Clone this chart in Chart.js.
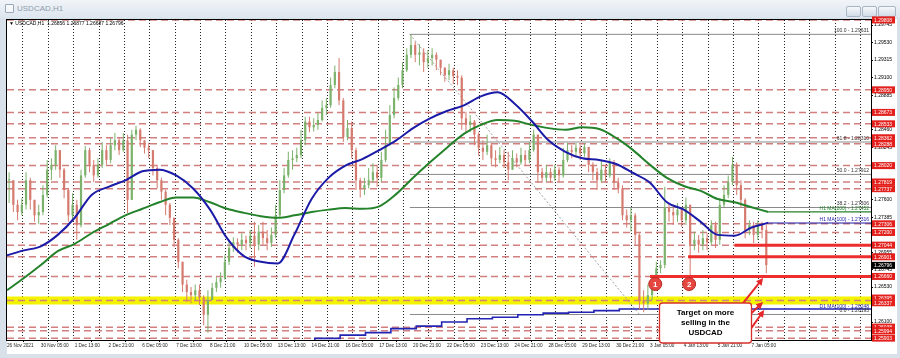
<!DOCTYPE html>
<html>
<head>
<meta charset="utf-8">
<script src="https://cdn.jsdelivr.net/npm/chart.js"></script>
<style>
  html, body { margin: 0; padding: 0; }
  body { width: 900px; height: 358px; background: #d8e0ea; position: relative; overflow: hidden; font-family: "Liberation Sans", Arial, sans-serif; }
  #titlebar { position: absolute; left: 0; top: 0; width: 900px; height: 18px; background: linear-gradient(#f1f4f8, #dde5ee); }
  #icon { position: absolute; left: 5px; top: 4px; width: 7px; height: 7px; border: 1px solid #9aa8b8; border-radius: 1px; background: #f6f8fb; }
  #title { position: absolute; left: 17px; top: 4px; font-size: 8px; color: #8e9cad; }
  .btn { position: absolute; top: 6px; height: 9px; border: 1px solid #a9b6c4; border-radius: 2px; background: linear-gradient(#f6f8fb, #d3dce6); }
  canvas { position: absolute; left: 0; top: 0; }
</style>
</head>
<body>
<div id="titlebar"><div id="icon"></div><div id="title">USDCAD,H1</div></div>
<div class="btn" style="left:846px;width:13px"></div>
<div class="btn" style="left:862px;width:13px"></div>
<div class="btn" style="left:878px;width:16px"></div>
<canvas id="chart" width="900" height="358"></canvas>
<script>
// time axis: one label every 32 hourly bars
const timeLabels = ['26 Nov 2021', '30 Nov 05:00', '1 Dec 13:00', '2 Dec 21:00', '6 Dec 05:00', '7 Dec 13:00',
    '8 Dec 21:00', '10 Dec 05:00', '13 Dec 13:00', '14 Dec 21:00', '16 Dec 05:00', '17 Dec 13:00',
    '20 Dec 21:00', '22 Dec 05:00', '23 Dec 13:00', '24 Dec 21:00', '28 Dec 05:00', '29 Dec 13:00',
    '30 Dec 21:00', '3 Jan 05:00', '4 Jan 13:00', '5 Jan 21:00', '7 Jan 05:00'];
const labelEvery = 32;
const xMax = 817;

const priceTicks = [1.29745, 1.29530, 1.29315, 1.29100, 1.28885, 1.28670, 1.28460, 1.28245, 1.28030,
    1.27815, 1.27600, 1.27385, 1.27170, 1.26955, 1.26745, 1.26530, 1.26315, 1.26100];
const yMin = 1.25880, yMax = 1.29807;

// 4-hour candles (open = previous close)
const candleBars = 4;
const closes = [
    1.2784, 1.2754, 1.2745, 1.2754, 1.2784, 1.2760, 1.2741, 1.2745, 1.2766, 1.2797,
    1.2803, 1.2821, 1.2797, 1.2772, 1.2741, 1.2754, 1.2729, 1.2790, 1.2821, 1.2803,
    1.2790, 1.2803, 1.2821, 1.2809, 1.2827, 1.2833, 1.2821, 1.2833, 1.2760, 1.2840,
    1.2846, 1.2833, 1.2824, 1.2821, 1.2799, 1.2784, 1.2770, 1.2754, 1.2738, 1.2711,
    1.2684, 1.2656, 1.2647, 1.2643, 1.2649, 1.2640, 1.2619, 1.2637, 1.2652, 1.2659,
    1.2664, 1.2684, 1.2701, 1.2708, 1.2705, 1.2711, 1.2707, 1.2716, 1.2705, 1.2721,
    1.2713, 1.2707, 1.2717, 1.2741, 1.2772, 1.2790, 1.2809, 1.2811, 1.2815, 1.2833,
    1.2856, 1.2849, 1.2852, 1.2858, 1.2873, 1.2876, 1.2901, 1.2917, 1.2882, 1.2837,
    1.2848, 1.2821, 1.2784, 1.2774, 1.2778, 1.2784, 1.2794, 1.2787, 1.2809, 1.2827,
    1.2864, 1.2885, 1.2901, 1.2919, 1.2938, 1.2950, 1.2938, 1.2941, 1.2929, 1.2934,
    1.2938, 1.2932, 1.2922, 1.2913, 1.2919, 1.2912, 1.2910, 1.2860, 1.2852, 1.2856,
    1.2840, 1.2824, 1.2819, 1.2827, 1.2811, 1.2809, 1.2815, 1.2806, 1.2797, 1.2811,
    1.2806, 1.2815, 1.2809, 1.2821, 1.2840, 1.2794, 1.2787, 1.2794, 1.2787, 1.2797,
    1.2790, 1.2809, 1.2821, 1.2819, 1.2824, 1.2817, 1.2825, 1.2803, 1.2794, 1.2784,
    1.2797, 1.2790, 1.2806, 1.2781, 1.2774, 1.2741, 1.2735, 1.2741, 1.2717, 1.2637,
    1.2633, 1.2643, 1.2658, 1.2676, 1.2680, 1.2751, 1.2745, 1.2741, 1.2748, 1.2735,
    1.2754, 1.2705, 1.2711, 1.2705, 1.2713, 1.2708, 1.2729, 1.2711, 1.2754, 1.2766,
    1.2782, 1.2803, 1.2778, 1.2760, 1.2723, 1.2729, 1.2717, 1.2729, 1.2723, 1.2680];
const highs = [
    1.2794, 1.2766, 1.2760, 1.2762, 1.2794, 1.2787, 1.2760, 1.2754, 1.2778, 1.2809,
    1.2811, 1.2827, 1.2821, 1.2799, 1.2774, 1.2768, 1.2760, 1.2797, 1.2826, 1.2824,
    1.2809, 1.2811, 1.2831, 1.2827, 1.2836, 1.2842, 1.2836, 1.2842, 1.2840, 1.2846,
    1.2851, 1.2848, 1.2833, 1.2830, 1.2821, 1.2803, 1.2787, 1.2772, 1.2756, 1.2738,
    1.2713, 1.2684, 1.2662, 1.2653, 1.2656, 1.2656, 1.2643, 1.2649, 1.2658, 1.2665,
    1.2671, 1.2692, 1.2711, 1.2714, 1.2713, 1.2719, 1.2716, 1.2723, 1.2733, 1.2729,
    1.2733, 1.2723, 1.2726, 1.2754, 1.2784, 1.2799, 1.2819, 1.2821, 1.2824, 1.2846,
    1.2862, 1.2862, 1.2860, 1.2867, 1.2882, 1.2885, 1.2910, 1.2925, 1.2934, 1.2885,
    1.2858, 1.2856, 1.2824, 1.2787, 1.2787, 1.2799, 1.2805, 1.2803, 1.2819, 1.2846,
    1.2876, 1.2898, 1.2910, 1.2929, 1.2946, 1.2963, 1.2954, 1.2951, 1.2946, 1.2944,
    1.2946, 1.2941, 1.2932, 1.2923, 1.2927, 1.2922, 1.2919, 1.2913, 1.2868, 1.2864,
    1.2858, 1.2843, 1.2833, 1.2840, 1.2830, 1.2821, 1.2825, 1.2821, 1.2819, 1.2821,
    1.2817, 1.2824, 1.2821, 1.2831, 1.2846, 1.2840, 1.2799, 1.2803, 1.2799, 1.2803,
    1.2800, 1.2824, 1.2830, 1.2827, 1.2830, 1.2827, 1.2830, 1.2824, 1.2806, 1.2799,
    1.2809, 1.2803, 1.2811, 1.2809, 1.2787, 1.2778, 1.2748, 1.2750, 1.2744, 1.2719,
    1.2649, 1.2656, 1.2668, 1.2684, 1.2686, 1.2776, 1.2756, 1.2754, 1.2756, 1.2751,
    1.2763, 1.2754, 1.2721, 1.2717, 1.2723, 1.2719, 1.2735, 1.2733, 1.2762, 1.2778,
    1.2790, 1.2813, 1.2806, 1.2784, 1.2762, 1.2735, 1.2733, 1.2735, 1.2733, 1.2729];
const lows = [
    1.2756, 1.2745, 1.2735, 1.2741, 1.2748, 1.2748, 1.2733, 1.2730, 1.2741, 1.2763,
    1.2784, 1.2797, 1.2787, 1.2762, 1.2733, 1.2733, 1.2711, 1.2726, 1.2787, 1.2794,
    1.2782, 1.2787, 1.2799, 1.2803, 1.2805, 1.2821, 1.2815, 1.2819, 1.2744, 1.2760,
    1.2833, 1.2825, 1.2817, 1.2811, 1.2790, 1.2774, 1.2760, 1.2741, 1.2729, 1.2702,
    1.2676, 1.2647, 1.2635, 1.2633, 1.2637, 1.2631, 1.2606, 1.2597, 1.2637, 1.2647,
    1.2652, 1.2662, 1.2680, 1.2696, 1.2695, 1.2698, 1.2698, 1.2701, 1.2678, 1.2698,
    1.2705, 1.2698, 1.2702, 1.2713, 1.2738, 1.2768, 1.2787, 1.2797, 1.2806, 1.2811,
    1.2827, 1.2843, 1.2844, 1.2846, 1.2856, 1.2864, 1.2873, 1.2897, 1.2876, 1.2831,
    1.2833, 1.2811, 1.2772, 1.2763, 1.2766, 1.2774, 1.2781, 1.2776, 1.2782, 1.2806,
    1.2833, 1.2860, 1.2882, 1.2897, 1.2917, 1.2934, 1.2929, 1.2925, 1.2917, 1.2922,
    1.2925, 1.2919, 1.2913, 1.2905, 1.2907, 1.2902, 1.2901, 1.2846, 1.2842, 1.2843,
    1.2827, 1.2814, 1.2809, 1.2815, 1.2803, 1.2800, 1.2805, 1.2799, 1.2784, 1.2799,
    1.2800, 1.2803, 1.2802, 1.2805, 1.2819, 1.2781, 1.2781, 1.2782, 1.2781, 1.2783,
    1.2782, 1.2787, 1.2806, 1.2811, 1.2814, 1.2809, 1.2813, 1.2794, 1.2784, 1.2772,
    1.2781, 1.2782, 1.2787, 1.2772, 1.2768, 1.2735, 1.2726, 1.2721, 1.2705, 1.2625,
    1.2622, 1.2625, 1.2637, 1.2656, 1.2670, 1.2676, 1.2733, 1.2729, 1.2733, 1.2727,
    1.2729, 1.2665, 1.2698, 1.2695, 1.2698, 1.2698, 1.2705, 1.2701, 1.2705, 1.2751,
    1.2762, 1.2778, 1.2766, 1.2750, 1.2713, 1.2717, 1.2707, 1.2711, 1.2713, 1.2670];

// H1 moving averages, one value every 16 bars
const maStep = 16;
const ma100 = [1.2692, 1.2698, 1.2703, 1.2717, 1.2738, 1.2766, 1.2776, 1.2784, 1.2795, 1.2797,
    1.2790, 1.2774, 1.2748, 1.2713, 1.2691, 1.2684, 1.2682, 1.2718, 1.2761, 1.2787,
    1.2802, 1.2810, 1.2821, 1.2833, 1.2848, 1.2860, 1.2869, 1.2876, 1.2887, 1.2892,
    1.2878, 1.2857, 1.2833, 1.2819, 1.2811, 1.2809, 1.2804, 1.2793, 1.2781, 1.2757,
    1.2748, 1.2733, 1.2717, 1.2716, 1.2726, 1.2732];
const ma200 = [1.2649, 1.2664, 1.2680, 1.2697, 1.2706, 1.2719, 1.2730, 1.2741, 1.2749, 1.2757,
    1.2763, 1.2763, 1.2757, 1.2749, 1.2744, 1.2740, 1.2738, 1.2741, 1.2745, 1.2748,
    1.2750, 1.2749, 1.2752, 1.2767, 1.2787, 1.2806, 1.2824, 1.2841, 1.2852, 1.2858,
    1.2857, 1.2852, 1.2848, 1.2846, 1.2849, 1.2847, 1.2836, 1.2821, 1.2803, 1.2787,
    1.2777, 1.2771, 1.2761, 1.2757, 1.2751, 1.2745];
const ma100Now = 1.27316, ma200Now = 1.27452;

// daily 100 MA, steps at each day start
const d1Bars = [291, 315, 339, 363, 387, 411, 435, 459, 483, 507, 531, 555, 579, 603, 817];
const d1Ma = [1.2587, 1.2590, 1.2594, 1.2597, 1.2602, 1.2605, 1.2610, 1.2614, 1.2616, 1.2619,
    1.2621, 1.2622, 1.2624, 1.2626, 1.2626];
const d1Now = 1.26248;

// horizontal levels (red dashed) and the yellow target zone
const levels = [1.29808, 1.28950, 1.28673, 1.28533, 1.28362, 1.28288, 1.28020, 1.27819, 1.27737,
    1.27306, 1.27200, 1.27044, 1.26901, 1.26660, 1.26038, 1.25994, 1.25903];
const bandLevels = [1.26395, 1.26337];
const bandMid = 1.26366;
const supportLines = [1.27044, 1.26901, 1.26660];
const supportFrom = [688, 644, 608];

// fibonacci retracement of the 20 Dec high to 30 Dec low
const fibLevels = [100.0, 61.8, 50.0, 38.2, 0.0];
const fibPrices = [1.29631, 1.28310, 1.27912, 1.27506, 1.26193];
const fibFrom = 381, fibLowBar = 598;

const lastPrice = 1.26796;
const header = '\u25BC USDCAD,H1  1.26856 1.26877 1.26687 1.26796';

const markers = [{ text: '1', bar: 613, price: 1.26567 }, { text: '2', bar: 645, price: 1.26567 }];
const callout = { from: 617, to: 704, top: 1.26334, bottom: 1.25843, lines: ['Target on more', 'selling in the', 'USDCAD'] };
const arrows = [
    { from: [696, 1.26334], to: [715, 1.26641] },
    { from: [704, 1.26212], to: [715, 1.26347] },
    { from: [704, 1.26028], to: [716, 1.26248] }
];

const FONT = '"Liberation Sans", Arial, sans-serif';
const bull = '#7bb26c', bear = '#d57a6e';

const opens = closes.map((c, i) => i === 0 ? c : closes[i - 1]);
const candleX = closes.map((c, i) => i * candleBars + candleBars / 2);
const candleColors = closes.map((c, i) => c >= opens[i] ? bull : bear);

function hline(p, from, to, color, width, extra) {
    return Object.assign({
        type: 'line', data: [{ x: from, y: p }, { x: to, y: p }],
        borderColor: color, borderWidth: width, pointRadius: 0, fill: false
    }, extra || {});
}

const datasets = [];

// candles
datasets.push({
    type: 'bar', label: 'bodies', order: 5,
    data: candleX.map((x, i) => ({ x: x, y: [opens[i], closes[i]] })),
    backgroundColor: candleColors, grouped: false, categoryPercentage: 1, barPercentage: 0.6,
    maxBarThickness: 2.2, minBarLength: 1, borderWidth: 0
});
datasets.push({
    type: 'bar', label: 'wicks', order: 6,
    data: candleX.map((x, i) => ({
        x: x,
        y: [Math.min(lows[i], opens[i], closes[i]), Math.max(highs[i], opens[i], closes[i])]
    })),
    backgroundColor: candleColors, grouped: false, categoryPercentage: 1, barPercentage: 0.3,
    maxBarThickness: 1, borderWidth: 0
});

// moving averages
datasets.push({
    type: 'line', label: 'H1 MA(100)', order: 4,
    data: ma100.map((v, i) => ({ x: i * maStep, y: v })),
    borderColor: '#1b1ba8', borderWidth: 2, pointRadius: 0, cubicInterpolationMode: 'monotone'
});
datasets.push({
    type: 'line', label: 'H1 MA(200)', order: 4,
    data: ma200.map((v, i) => ({ x: i * maStep, y: v })),
    borderColor: '#23822a', borderWidth: 2, pointRadius: 0, cubicInterpolationMode: 'monotone'
});
datasets.push(hline(ma100Now, (ma100.length - 1) * maStep, xMax, '#1b1ba8', 1.2, { order: 4 }));
datasets.push(hline(ma200Now, (ma200.length - 1) * maStep, xMax, '#23822a', 1.2, { order: 4 }));
datasets.push({
    type: 'line', label: 'D1 MA(100)', order: 7, stepped: 'after',
    data: d1Bars.map((b, i) => ({ x: b, y: d1Ma[i] })),
    borderColor: '#2323b4', borderWidth: 1.6, pointRadius: 0
});

// levels
levels.forEach(p => datasets.push(hline(p, 0, xMax, '#d27f7f', 1.5, { borderDash: [7, 4], order: 9 })));
datasets.push(hline(bandMid, 0, xMax, '#f3f300', 8, { order: 10 }));
datasets.push(hline(bandMid, 0, xMax, '#d27f7f', 1.5, { borderDash: [7, 4], order: 8 }));
supportLines.forEach((p, i) => datasets.push(hline(p, supportFrom[i], xMax, '#ee2d2d', 3, { order: 3 })));

// fibonacci
fibPrices.forEach(p => datasets.push(hline(p, fibFrom, xMax, '#8a8a8a', 1, { order: 8 })));
datasets.push({
    type: 'line', order: 8,
    data: [{ x: fibFrom, y: fibPrices[0] }, { x: fibLowBar, y: fibPrices[fibPrices.length - 1] }],
    borderColor: '#a0a0a0', borderWidth: 1, borderDash: [2, 2], pointRadius: 0
});

function drawArrow(ctx, x0, y0, x1, y1) {
    const a = Math.atan2(y1 - y0, x1 - x0);
    ctx.beginPath();
    ctx.moveTo(x0, y0);
    ctx.lineTo(x1 - 4 * Math.cos(a), y1 - 4 * Math.sin(a));
    ctx.stroke();
    ctx.beginPath();
    ctx.moveTo(x1, y1);
    ctx.lineTo(x1 - 7 * Math.cos(a) + 3.5 * Math.sin(a), y1 - 7 * Math.sin(a) - 3.5 * Math.cos(a));
    ctx.lineTo(x1 - 7 * Math.cos(a) - 3.5 * Math.sin(a), y1 - 7 * Math.sin(a) + 3.5 * Math.cos(a));
    ctx.closePath();
    ctx.fill();
}

const overlay = {
    id: 'overlay',
    beforeDraw(chart) {
        const { ctx, chartArea } = chart;
        const x = chart.scales.x, y = chart.scales.y;
        ctx.save();
        ctx.fillStyle = '#ffffff';
        ctx.fillRect(chartArea.left, chartArea.top - 1, y.right - chartArea.left, x.bottom - chartArea.top + 1);
        ctx.restore();
    },
    afterDatasetsDraw(chart) {
        const { ctx, chartArea } = chart;
        const y = chart.scales.y;
        ctx.save();
        // chart frame
        ctx.strokeStyle = '#000';
        ctx.lineWidth = 1;
        ctx.strokeRect(chartArea.left - 0.5, chartArea.top - 0.5, chartArea.width + 1, chartArea.height + 1);

        // fib and MA captions
        ctx.font = '5px ' + FONT;
        ctx.textAlign = 'right';
        ctx.textBaseline = 'bottom';
        const rx = chartArea.right - 2;
        ctx.fillStyle = '#333';
        fibPrices.forEach((p, i) => {
            ctx.fillText(fibLevels[i].toFixed(1) + ' - ' + p.toFixed(5), rx, y.getPixelForValue(p) - 1);
        });
        ctx.fillStyle = '#23822a';
        ctx.fillText('H1 MA(200) - ' + ma200Now.toFixed(5), rx, y.getPixelForValue(ma200Now) - 1);
        ctx.fillStyle = '#1b1ba8';
        ctx.fillText('H1 MA(100) - ' + ma100Now.toFixed(5), rx, y.getPixelForValue(ma100Now) - 1);
        ctx.fillText('D1 MA(100) - ' + d1Now.toFixed(5), rx, y.getPixelForValue(d1Now) - 1);

        // header
        ctx.textAlign = 'left';
        ctx.textBaseline = 'middle';
        ctx.fillStyle = '#000';
        ctx.fillText(header, chartArea.left + 2, chartArea.top + 4);
        ctx.restore();
    },
    afterDraw(chart) {
        const { ctx } = chart;
        const x = chart.scales.x, y = chart.scales.y;
        ctx.save();

        // price tags on the axis
        ctx.font = '5px ' + FONT;
        ctx.textAlign = 'left';
        ctx.textBaseline = 'middle';
        levels.concat(bandLevels).forEach(p => {
            const py = y.getPixelForValue(p);
            ctx.fillStyle = '#e3201c';
            ctx.fillRect(y.left + 1, py - 3.5, 23, 7);
            ctx.fillStyle = '#fff';
            ctx.fillText(p.toFixed(5), y.left + 3, py + 0.5);
        });
        const lp = y.getPixelForValue(lastPrice);
        ctx.fillStyle = '#000';
        ctx.fillRect(y.left + 1, lp - 3.5, 23, 7);
        ctx.fillStyle = '#fff';
        ctx.fillText(lastPrice.toFixed(5), y.left + 3, lp + 0.5);

        // numbered markers
        markers.forEach(m => {
            const cx = x.getPixelForValue(m.bar), cy = y.getPixelForValue(m.price);
            ctx.beginPath();
            ctx.arc(cx, cy, 6.5, 0, Math.PI * 2);
            ctx.fillStyle = '#e5463f';
            ctx.fill();
            ctx.strokeStyle = '#b82a24';
            ctx.lineWidth = 1;
            ctx.stroke();
            ctx.fillStyle = '#fff';
            ctx.font = 'bold 8px ' + FONT;
            ctx.textAlign = 'center';
            ctx.fillText(m.text, cx, cy + 0.5);
        });

        // arrows
        ctx.strokeStyle = '#e5262a';
        ctx.fillStyle = '#e5262a';
        ctx.lineWidth = 2;
        arrows.forEach(a => {
            drawArrow(ctx, x.getPixelForValue(a.from[0]), y.getPixelForValue(a.from[1]),
                x.getPixelForValue(a.to[0]), y.getPixelForValue(a.to[1]));
        });

        // callout box
        const bx0 = x.getPixelForValue(callout.from), bx1 = x.getPixelForValue(callout.to);
        const by0 = y.getPixelForValue(callout.top), by1 = y.getPixelForValue(callout.bottom);
        ctx.beginPath();
        ctx.roundRect(bx0, by0, bx1 - bx0, by1 - by0, 3);
        ctx.fillStyle = '#fff';
        ctx.fill();
        ctx.strokeStyle = '#d8312b';
        ctx.lineWidth = 1.3;
        ctx.stroke();
        ctx.fillStyle = '#000';
        ctx.font = 'bold 8px ' + FONT;
        ctx.textAlign = 'center';
        ctx.textBaseline = 'middle';
        const step = (by1 - by0) / (callout.lines.length + 1);
        callout.lines.forEach((t, i) => ctx.fillText(t, (bx0 + bx1) / 2, by0 + step * (i + 1)));
        ctx.restore();
    }
};

new Chart(document.getElementById('chart'), {
    type: 'bar',
    data: { datasets: datasets },
    options: {
        responsive: false,
        animation: false,
        events: [],
        layout: { padding: { left: 7, top: 20, right: 3, bottom: 4 } },
        plugins: { legend: { display: false }, tooltip: { enabled: false } },
        scales: {
            x: {
                type: 'linear', position: 'bottom', min: 0, max: xMax, offset: false,
                afterBuildTicks: s => { s.ticks = timeLabels.map((t, i) => ({ value: i * labelEvery })); },
                afterFit: s => { s.height = 14; },
                grid: { drawOnChartArea: false, drawTicks: true, tickLength: 2, color: '#000' },
                border: { display: true, color: '#000' },
                ticks: {
                    autoSkip: false, maxRotation: 0, minRotation: 0, align: 'start', padding: 1,
                    color: '#222', font: { size: 4.7, family: FONT },
                    callback: (v, i) => timeLabels[i]
                }
            },
            xg: {
                type: 'linear', position: 'bottom', min: 0, max: xMax, offset: false,
                afterBuildTicks: s => {
                    const t = [];
                    for (let b = 3; b <= xMax; b += 24) t.push({ value: b });
                    s.ticks = t;
                },
                afterFit: s => { s.height = 0; },
                grid: { drawOnChartArea: true, drawTicks: false, color: '#222', lineWidth: 1 },
                border: { display: false, dash: [1, 2] },
                ticks: { display: false }
            },
            y: {
                type: 'linear', position: 'right', min: yMin, max: yMax,
                afterBuildTicks: s => { s.ticks = priceTicks.map(v => ({ value: v })); },
                afterFit: s => { s.width = 26; },
                grid: { drawOnChartArea: false, drawTicks: true, tickLength: 2, color: '#000' },
                border: { display: true, color: '#000' },
                ticks: { padding: 1, color: '#000', font: { size: 5, family: FONT }, callback: v => v.toFixed(5) }
            }
        }
    },
    plugins: [overlay]
});
</script>
</body>
</html>
